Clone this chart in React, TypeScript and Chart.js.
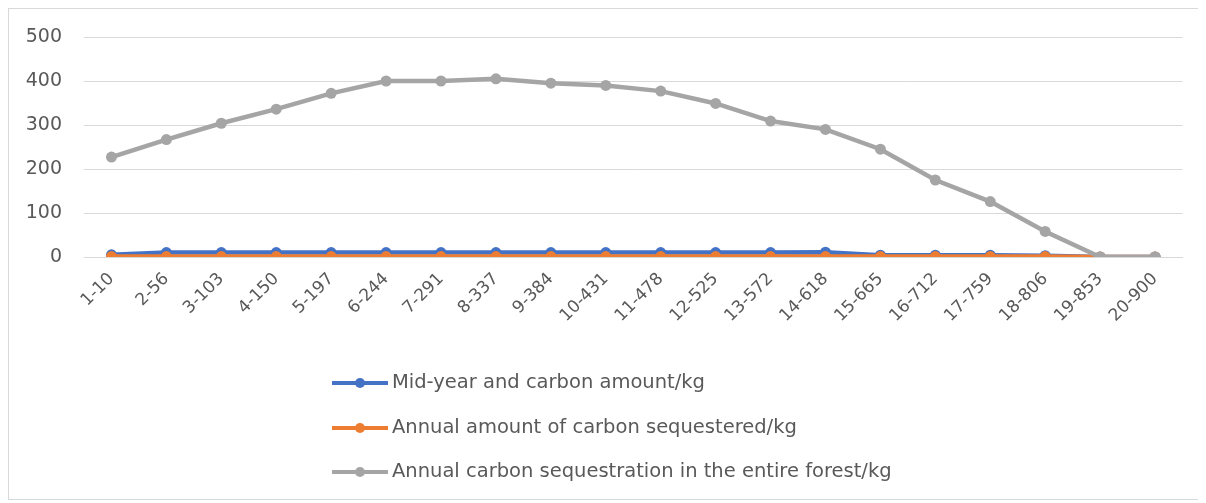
import React, { useEffect, useRef } from "react";
import { Chart, registerables } from "chart.js";

Chart.register(...registerables);

const categories = [
  "1-10", "2-56", "3-103", "4-150", "5-197", "6-244", "7-291", "8-337", "9-384", "10-431",
  "11-478", "12-525", "13-572", "14-618", "15-665", "16-712", "17-759", "18-806", "19-853", "20-900",
];

const midYearCarbon = [5, 10, 10, 10, 10, 10, 10, 10, 10, 10, 10, 10, 10, 11, 4, 4, 4, 3, 0, 0];
const annualSequestered = [1, 1, 1, 1, 1, 1, 1, 1, 1, 1, 1, 1, 1, 1, 1, 1, 1, 1, 0, 0];
const forestSequestration = [
  227, 267, 304, 336, 372, 400, 400, 405, 395, 390,
  377, 349, 309, 290, 245, 175, 126, 58, 0, 0,
];

const seriesNames = [
  "Mid-year and carbon amount/kg",
  "Annual amount of carbon sequestered/kg",
  "Annual carbon sequestration in the entire forest/kg",
];
const seriesColors = ["#4472C4", "#ED7D31", "#A5A5A5"];
const yTicks = [0, 100, 200, 300, 400, 500];

const TEXT = "#595959";
const GRID = "#d9d9d9";
const FONT = "'DejaVu Sans', sans-serif";

const legendPlugin = {
  id: "stackedLegend",
  afterDraw(chart: any) {
    const ctx = chart.ctx;
    const base = chart.chartArea.bottom;
    const x0 = 323;
    const rows = [126, 171, 215];
    ctx.save();
    chart.data.datasets.forEach((ds: any, i: number) => {
      const y = base + rows[i];
      ctx.strokeStyle = ds.borderColor;
      ctx.lineWidth = 4;
      ctx.beginPath();
      ctx.moveTo(x0, y);
      ctx.lineTo(x0 + 56, y);
      ctx.stroke();
      ctx.fillStyle = ds.borderColor;
      ctx.beginPath();
      ctx.arc(x0 + 28, y, 5, 0, Math.PI * 2);
      ctx.fill();
      ctx.fillStyle = TEXT;
      ctx.font = `19.5px ${FONT}`;
      ctx.textBaseline = "middle";
      ctx.textAlign = "left";
      ctx.fillText(ds.label, x0 + 60, y);
    });
    ctx.restore();
  },
};

export default function App() {
  const ref = useRef<HTMLCanvasElement | null>(null);

  useEffect(() => {
    if (!ref.current) return;
    const seriesData = [midYearCarbon, annualSequestered, forestSequestration];
    const chart = new Chart(ref.current, {
      type: "line",
      data: {
        labels: categories,
        datasets: seriesData.map((d, i) => ({
          label: seriesNames[i],
          data: d,
          borderColor: seriesColors[i],
          backgroundColor: seriesColors[i],
          pointBackgroundColor: seriesColors[i],
          pointBorderColor: seriesColors[i],
          borderWidth: 4.5,
          pointRadius: 5.5,
          pointBorderWidth: 0,
          tension: 0,
          order: 2 - i,
        })),
      },
      options: {
        animation: false,
        responsive: false,
        maintainAspectRatio: false,
        layout: { padding: { top: 28, right: 15.5, bottom: 167, left: 0 } },
        plugins: {
          legend: { display: false },
          tooltip: { enabled: false },
        },
        scales: {
          x: {
            offset: true,
            grid: { display: false },
            border: { display: true, color: GRID, width: 1 },
            ticks: {
              autoSkip: false,
              minRotation: 45,
              maxRotation: 45,
              color: TEXT,
              font: { family: FONT, size: 17 },
              padding: 4,
            },
            afterFit(scale: any) {
              scale.height = 75;
            },
          },
          y: {
            min: 0,
            max: 500,
            afterBuildTicks(scale: any) {
              scale.ticks = yTicks.map((v) => ({ value: v }));
            },
            grid: { color: GRID, lineWidth: 1, drawTicks: false },
            border: { display: false },
            ticks: {
              color: TEXT,
              font: { family: FONT, size: 19 },
              padding: 22,
            },
            afterFit(scale: any) {
              scale.width = 75;
              scale.paddingTop = 0;
              scale.paddingBottom = 0;
            },
          },
        },
      },
      plugins: [legendPlugin],
    });
    return () => chart.destroy();
  }, []);

  return (
    <div
      style={{
        width: 1191,
        height: 492,
        boxSizing: "border-box",
        border: `1px solid ${GRID}`,
        background: "#fff",
      }}
    >
      <canvas ref={ref} width={1189} height={490} style={{ display: "block" }} />
    </div>
  );
}
